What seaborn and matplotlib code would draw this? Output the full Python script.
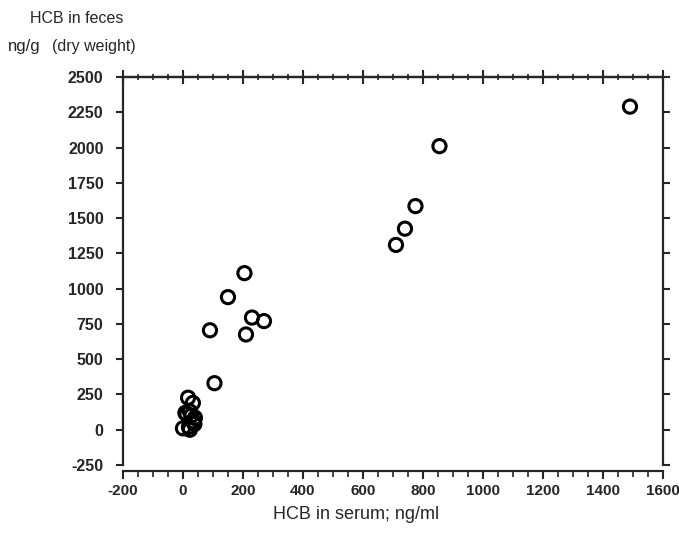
import numpy as np
import pandas as pd
import matplotlib
matplotlib.use("Agg")
import matplotlib.pyplot as plt
from matplotlib.ticker import MultipleLocator
import seaborn as sns

# HCB in serum (ng/ml) vs HCB in feces (ng/g dry weight)
serum = [1490, 855, 775, 740, 710, 205, 150, 230, 270, 90, 210, 105,
         17, 33, 23, 12, 40, 0, 23, 35, 28, 8, 38, 20]
feces = [2290, 2010, 1585, 1425, 1310, 1110, 940, 795, 770, 705, 675, 330,
         227, 190, 130, 110, 85, 10, 0, 60, 100, 120, 40, 20]

x_ticks = [-200, 0, 200, 400, 600, 800, 1000, 1200, 1400, 1600]
y_ticks = [-250, 0, 250, 500, 750, 1000, 1250, 1500, 1750, 2000, 2250, 2500]

df = pd.DataFrame({"serum": serum, "feces": feces})

sns.set_style("ticks")
plt.rcParams["font.family"] = ["Liberation Sans", "DejaVu Sans"]
plt.rcParams["axes.unicode_minus"] = False

fig = plt.figure(figsize=(6.79, 5.34), dpi=100)
ax = fig.add_axes([0.1811, 0.1292, 0.7953, 0.7266])

sns.scatterplot(data=df, x="serum", y="feces", ax=ax, marker="o", s=90,
                facecolors="none", edgecolor="black", linewidth=2.2, legend=False)

ax.set_xlim(-200, 1600)
ax.set_ylim(-250, 2500)
ax.set_xticks(x_ticks)
ax.set_yticks(y_ticks)
ax.xaxis.set_minor_locator(MultipleLocator(50))

for s in ax.spines.values():
    s.set_linewidth(1.6)
    s.set_visible(True)
ax.spines["bottom"].set_position(("outward", 4))

ax.tick_params(axis="x", which="major", direction="out", length=6, width=1.5,
               labelsize=11, pad=4)
ax.tick_params(axis="x", which="minor", direction="out", length=4, width=1.2)
ax.tick_params(axis="y", which="major", direction="out", length=5, width=1.5,
               right=True, labelsize=11.5, pad=9)
for lab in ax.get_xticklabels() + ax.get_yticklabels():
    lab.set_fontweight("bold")

top = ax.secondary_xaxis("top")
top.set_xticks(x_ticks)
top.xaxis.set_minor_locator(MultipleLocator(50))
top.tick_params(which="major", direction="inout", length=10, width=1.5, labeltop=False)
top.tick_params(which="minor", direction="inout", length=4, width=1.2)
top.spines["top"].set_linewidth(1.6)

ax.set_xlabel("")
ax.set_ylabel("")
fig.text(0.524, 0.036, "HCB in serum; ng/ml", fontsize=13, ha="center", va="center")
fig.text(0.044, 0.966, "HCB in feces", fontsize=11.5, ha="left", va="center")
fig.text(0.012, 0.912, "ng/g", fontsize=12, ha="left", va="center")
fig.text(0.076, 0.912, "(dry weight)", fontsize=11.5, ha="left", va="center")

fig.savefig("out.png", dpi=100)
